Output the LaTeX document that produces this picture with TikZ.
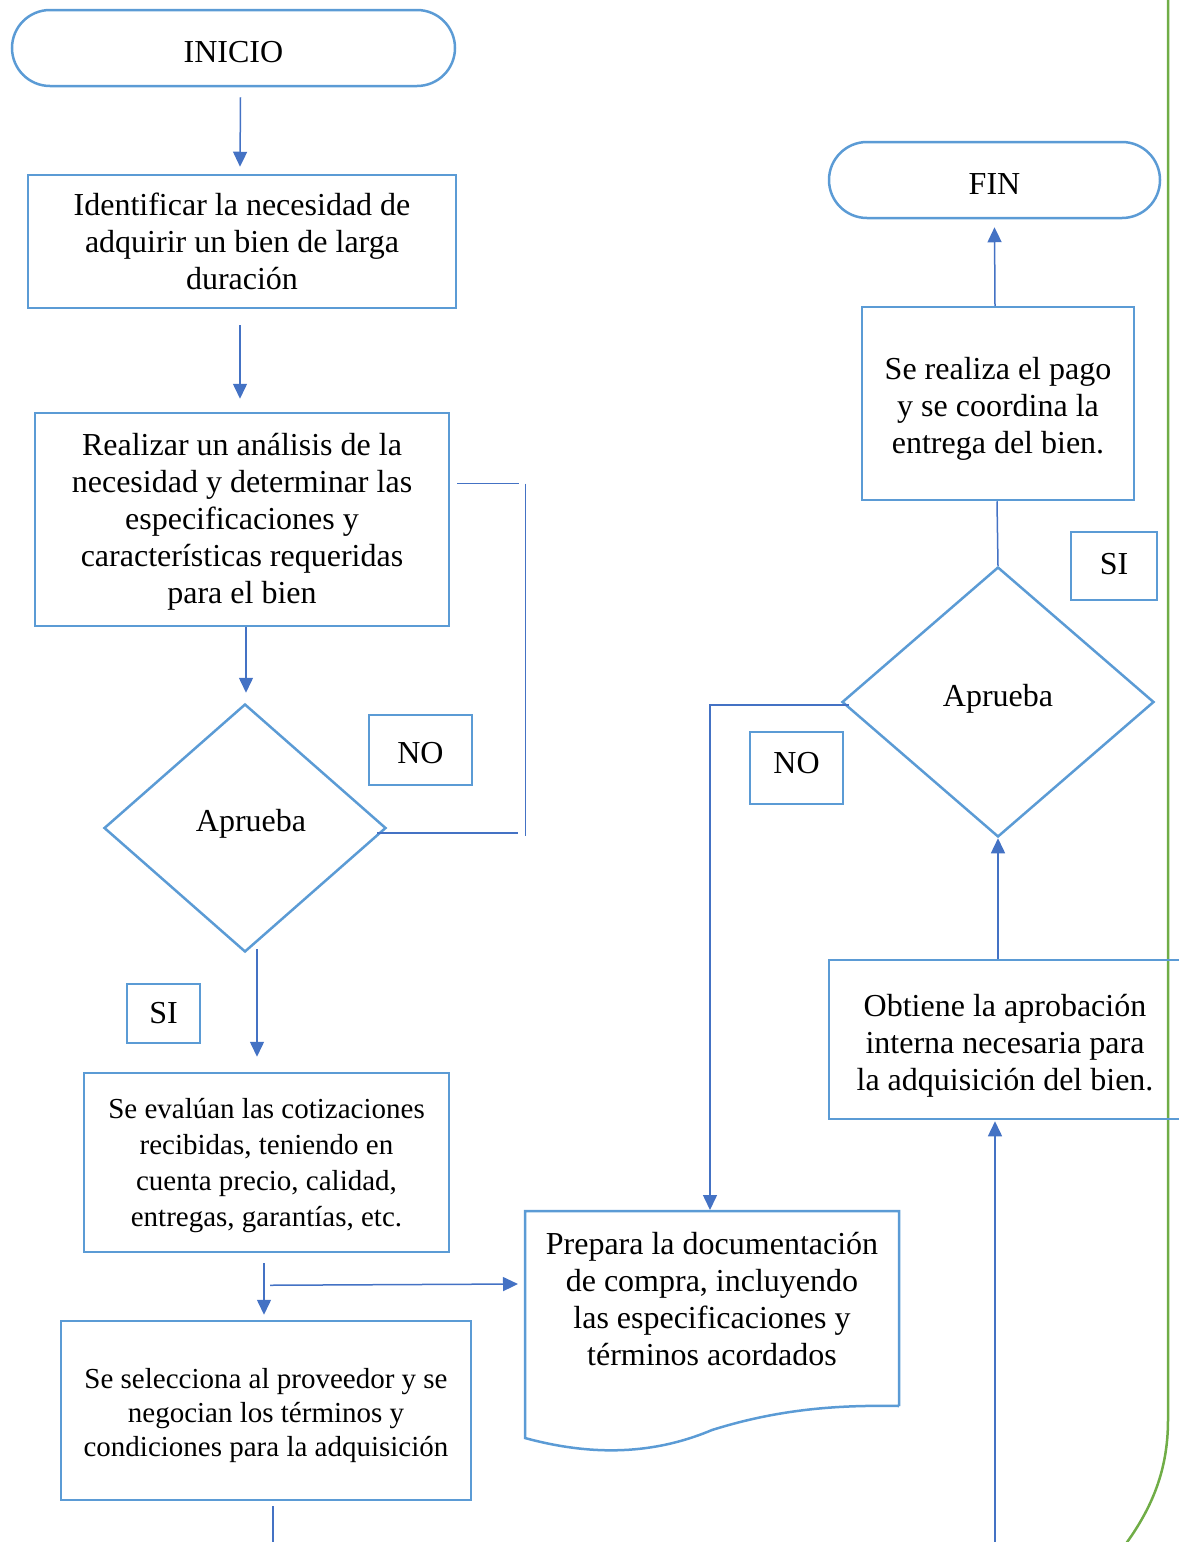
\documentclass[tikz,border=0pt]{standalone}
\usepackage{fontspec}
\setmainfont{Liberation Serif}
\usetikzlibrary{shapes.geometric,arrows.meta,calc}
\definecolor{boxblue}{HTML}{5B9BD5}
\definecolor{linkblue}{HTML}{4472C4}
\definecolor{sidegreen}{HTML}{70AD47}
% invisible struts that move a node's text down (taller first line) or up (deeper last line)
\newcommand\lowerby[1]{\rule{0pt}{#1}}
\newcommand\raiseby[1]{\rule[-#1]{0pt}{#1}}

\begin{document}
\begin{tikzpicture}[x=1pt,y=-1pt,
  every node/.style={font=\fontsize{32}{37}\selectfont},
  frame/.style={draw=boxblue,line width=2.5pt,inner sep=0pt,align=center},
  box/.style={frame,rectangle},
  terminal/.style={frame,rectangle,rounded corners=38pt,minimum height=76pt},
  decision/.style={frame,diamond},
  tag/.style={frame,rectangle},
  small/.style={font=\fontsize{29}{36}\selectfont},
  smaller/.style={font=\fontsize{29}{34}\selectfont},
  link/.style={draw=linkblue,line width=1.5pt},
  arr/.style={link,-{Triangle[length=15pt,width=14pt]}}
]
\useasboundingbox (0,0) rectangle (1178,1542);

% process outline on the right
\draw[sidegreen,line width=2.5pt] (1168,-5) -- (1168,1420)
  .. controls (1168,1470) and (1152,1508) .. (1125,1545);

% left column
\node[terminal,minimum width=443pt] (inicio) at (233.5,48) {\lowerby{29pt}INICIO};
\node[box,minimum width=428pt,minimum height=133pt] (b1) at (242,241.5)
  {Identificar la necesidad de\\adquirir un bien de larga\\duración};
\node[box,minimum width=414pt,minimum height=213pt] (b2) at (242,519.5)
  {\lowerby{26pt}Realizar un análisis de la\\necesidad y determinar las\\especificaciones y\\características requeridas\\para el bien};
\node[decision,minimum width=282pt,minimum height=248pt] (d1) at (245,828) {\hspace{12pt}Aprueba\raiseby{15pt}};
\node[tag,minimum width=103pt,minimum height=70pt] (no1) at (420.5,750) {\lowerby{27pt}NO};
\node[tag,minimum width=73pt,minimum height=59pt] (si1) at (163.5,1013.5) {SI};
\node[box,small,minimum width=365pt,minimum height=179pt] (b3) at (266.5,1162.5)
  {\lowerby{26pt}Se evalúan las cotizaciones\\recibidas, teniendo en\\cuenta precio, calidad,\\entregas, garantías, etc.};
\node[box,smaller,minimum width=410pt,minimum height=179pt] (b4) at (266,1410.5)
  {\lowerby{30pt}Se selecciona al proveedor y se\\negocian los términos y\\condiciones para la adquisición};

% purchase document
\node[align=center,inner sep=0pt] (doc) at (712,1299)
  {Prepara la documentación\\de compra, incluyendo\\las especificaciones y\\términos acordados};
\draw[boxblue,line width=2.5pt,line join=miter]
  ($(doc.center)+(187,107)$) -- ($(doc.center)+(187,-88)$)
  -- ($(doc.center)+(-187,-88)$) -- ($(doc.center)+(-187,139)$)
  .. controls ($(doc.center)+(-110,160)$) and ($(doc.center)+(-50,152)$) .. ($(doc.center)+(0,131)$)
  .. controls ($(doc.center)+(70,109)$) and ($(doc.center)+(130,106)$) .. ($(doc.center)+(187,107)$);
\coordinate (docin) at ($(doc.center)+(-2,-89)$);

% right column
\node[terminal,minimum width=331pt] (fin) at (994.5,180) {\lowerby{29pt}FIN};
\node[box,minimum width=272pt,minimum height=193pt] (b5) at (998,403.5)
  {\lowerby{33pt}Se realiza el pago\\y se coordina la\\entrega del bien.};
\node[tag,minimum width=86pt,minimum height=68pt] (si2) at (1114,566) {SI\raiseby{4pt}};
\node[decision,minimum width=312pt,minimum height=270pt] (d2) at (998,702) {Aprueba\raiseby{13pt}};
\node[tag,minimum width=93pt,minimum height=72pt] (no2) at (796.5,768) {NO\raiseby{10pt}};
\node[box,minimum width=352pt,minimum height=159pt] (b6) at (1005,1039.5)
  {\lowerby{34pt}Obtiene la aprobación\\interna necesaria para\\la adquisición del bien.};

\coordinate (b4out) at (273,1545);
\coordinate (b6in) at (995,1545);

% connectors, left column
\draw[arr] ($(inicio.south)+(7,10)$) -- ($(b1.north)+(-2,-7)$);
\draw[arr] ($(b1.south)+(-2,16)$) -- ($(b2.north)+(-2,-13)$);
\draw[arr] ($(b2.south)+(4,0)$) -- ($(d1.north)+(1,-10)$);
\draw[link] ($(b2.east)+(7,-36)$) -- ++(62,0);
\draw[link] ($(b2.east)+(75,-36)$) -- ($(d1.east)+(138,8)$);
\draw[link] ($(d1.east)+(-10,5)$) -- ($(d1.east)+(131,5)$);
\draw[arr] ($(d1.south)+(12,-4)$) -- ($(b3.north)+(-9.5,-15)$);
\draw[arr] ($(b3.south)+(-2.5,10)$) -- ($(b4.north)+(-2,-5)$);
\draw[arr] ($(b3.south)+(3.5,32)$) -- ($(doc.center)+(-194,-15)$);
\draw[link] ($(b4.south)+(7,5)$) -- (b4out);

% connectors, right column
\draw[arr] ($(d2.west)+(8,3)$) -| (docin);
\draw[arr] (b6.north -| d2.south) -- (d2.south);
\draw[arr] (b6in) -- ($(b6.south)+(-10,1)$);
\draw[link] (d2.north) -- ($(b5.south)+(-1,0)$);
\draw[arr] ($(b5.north)+(-3,0)$) -- ($(fin.south)+(0,8)$);
\end{tikzpicture}
\end{document}
